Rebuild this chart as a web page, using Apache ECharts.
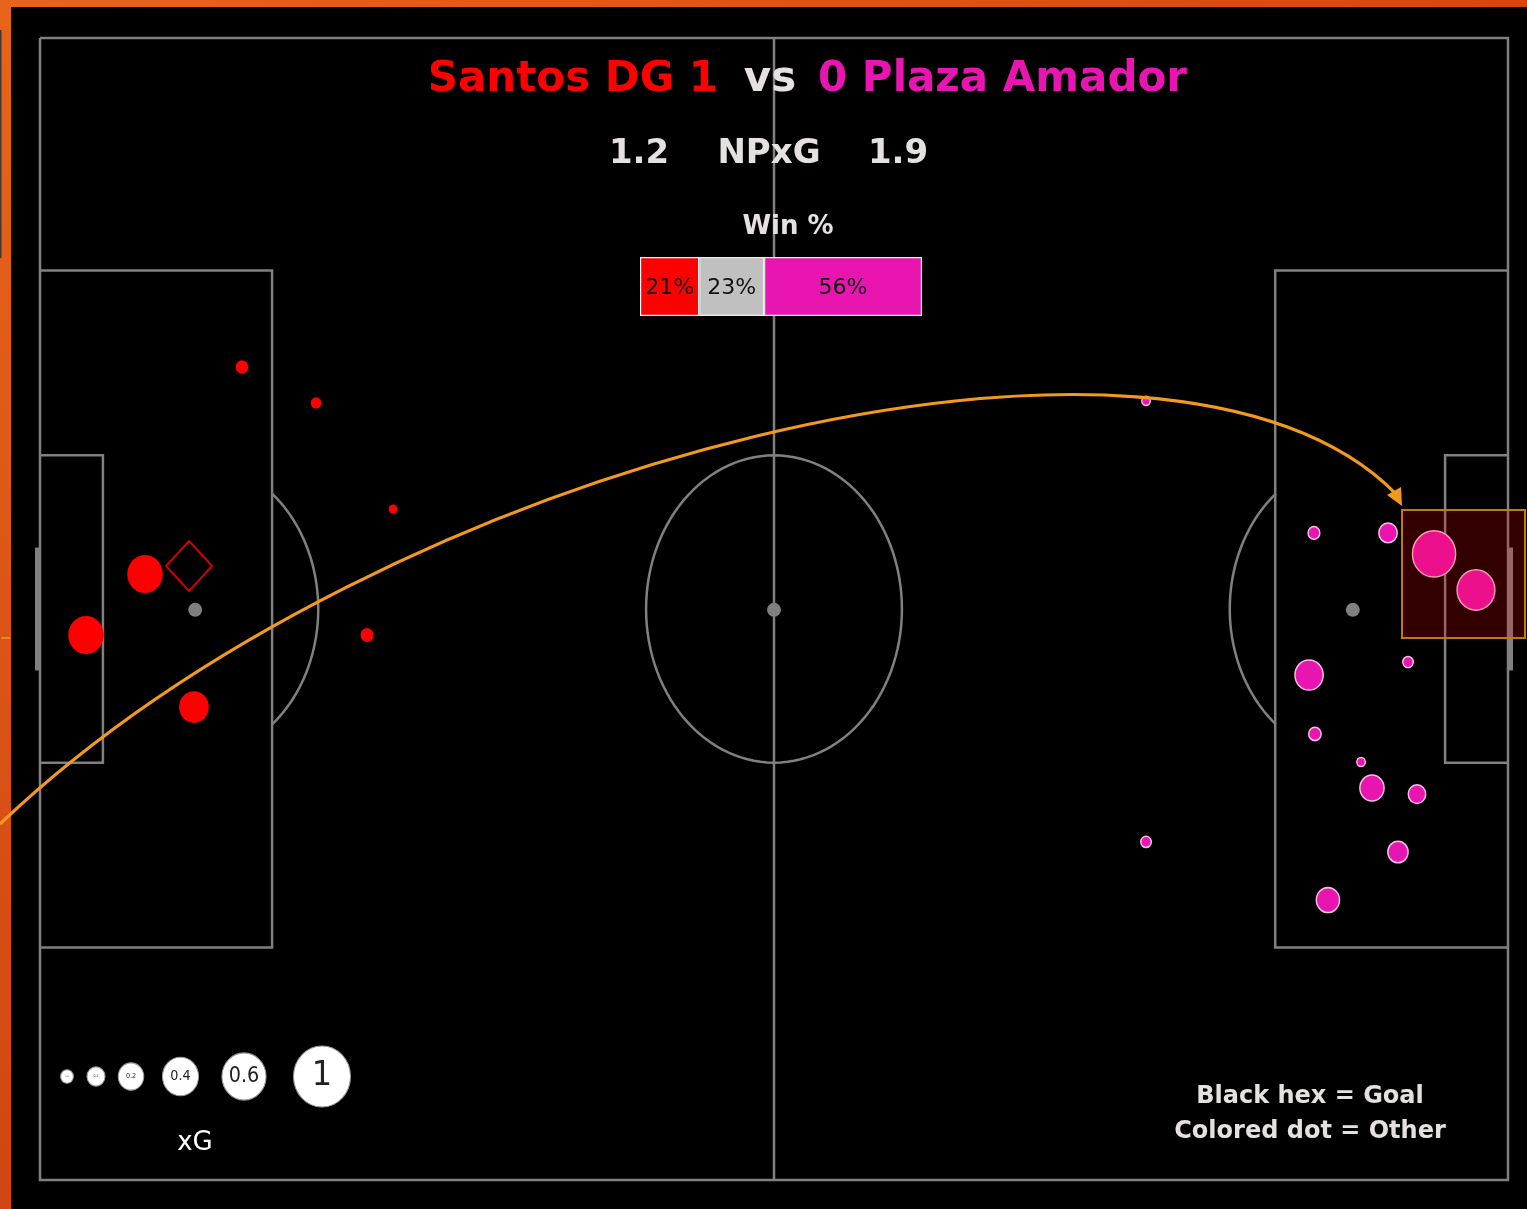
<!DOCTYPE html>
<html>
<head>
<meta charset="utf-8">
<script src="https://cdn.jsdelivr.net/npm/echarts@6/dist/echarts.min.js"></script>
<style>
  html, body { margin: 0; padding: 0; background: #000; }
  #main { width: 1527px; height: 1209px; }
</style>
</head>
<body>
<div id="main"></div>
<script>
var myChart = echarts.init(document.getElementById('main'));

// pitch is 105 x 68 m, y measured from the top touchline
var homeTeam = 'Santos DG', awayTeam = 'Plaza Amador';
var homeGoals = 1, awayGoals = 0;
var homeNpxg = 1.2, awayNpxg = 1.9;

var winLabels = ['home', 'draw', 'away'];
var winPct = [21, 23, 56];

// Santos shots (attacking the left goal)
var homeX  = [14.45, 19.74, 25.25, 7.51, 3.29, 11.01, 23.39];
var homeY  = [19.59, 21.73, 28.05, 31.92, 35.55, 39.84, 35.55];
var homeXg = [0.05, 0.035, 0.023, 0.39, 0.39, 0.27, 0.052];

// Santos goal
var goalX = [10.66];
var goalY = [31.44];

// Plaza Amador shots (attacking the right goal)
var awayX  = [79.11, 91.12, 96.42, 99.71, 102.71, 97.85, 90.77, 91.19, 94.49, 95.27, 98.49, 97.13, 92.12, 79.11];
var awayY  = [21.61, 29.47, 29.47, 30.72, 32.87, 37.16, 37.93, 41.44, 43.11, 44.66, 45.02, 48.47, 51.33, 47.87];
var awayXg = [0.022, 0.043, 0.105, 0.574, 0.44, 0.034, 0.245, 0.048, 0.022, 0.18, 0.094, 0.126, 0.166, 0.034];

// size legend
var legendXg = [0.05, 0.1, 0.2, 0.4, 0.6, 1];
var legendText = ['0.05', '0.1', '0.2', '0.4', '0.6', '1'];

var RED = '#ff0000', PINK = '#e815b0', LINE = '#808080', TXT = '#e6e1e1';
var FONT = 'DejaVu Sans';

function dia(xg) { return 57 * Math.sqrt(xg); }

function pitch(params, api) {
  var P = function (x, y) { return api.coord([x, y]); };
  var kids = [];
  function poly(pts, w) {
    kids.push({ type: 'polyline', shape: { points: pts.map(function (p) { return P(p[0], p[1]); }) },
      style: { stroke: LINE, lineWidth: w || 2.5, fill: null } });
  }
  function arc(cx, cy, r, a0, a1) {
    var pts = [];
    for (var i = 0; i <= 120; i++) {
      var a = a0 + (a1 - a0) * i / 120;
      pts.push([cx + r * Math.cos(a), cy + r * Math.sin(a)]);
    }
    poly(pts);
  }
  poly([[0, 0], [105, 0], [105, 68], [0, 68], [0, 0]]);
  poly([[52.5, 0], [52.5, 68]]);
  poly([[0, 13.84], [16.6, 13.84], [16.6, 54.16], [0, 54.16]]);
  poly([[105, 13.84], [88.35, 13.84], [88.35, 54.16], [105, 54.16]]);
  poly([[0, 24.84], [4.5, 24.84], [4.5, 43.16], [0, 43.16]]);
  poly([[105, 24.84], [100.5, 24.84], [100.5, 43.16], [105, 43.16]]);
  poly([[-0.18, 30.34], [-0.18, 37.66]], 5);
  poly([[105.18, 30.34], [105.18, 37.66]], 5);
  arc(52.5, 34, 9.15, 0, Math.PI * 2);
  var a = Math.acos(5.5 / 8.8);
  arc(11.1, 34, 8.8, -a, a);
  arc(93.9, 34, 8.8, Math.PI - a, Math.PI + a);
  [[11.1, 34.05], [93.9, 34.05], [52.5, 34.05]].forEach(function (s) {
    var c = P(s[0], s[1]);
    kids.push({ type: 'circle', shape: { cx: c[0], cy: c[1], r: 7 }, style: { fill: LINE } });
  });
  return { type: 'group', children: kids };
}

var graphics = [
  { type: 'rect', shape: { x: 0, y: 0, width: 1527, height: 7 }, z: 50,
    style: { fill: new echarts.graphic.LinearGradient(0, 0, 1, 0, [{ offset: 0, color: '#e8641a' }, { offset: 1, color: '#d8460e' }]) } },
  { type: 'rect', shape: { x: 0, y: 0, width: 11, height: 1209 }, z: 50,
    style: { fill: new echarts.graphic.LinearGradient(0, 0, 0, 1, [{ offset: 0, color: '#e8641a' }, { offset: 1, color: '#d04612' }]) } },
  { type: 'rect', shape: { x: 0, y: 30, width: 1.5, height: 228 }, z: 51, style: { fill: '#3a3a3a' } },
  { type: 'line', shape: { x1: 1, y1: 638, x2: 10, y2: 638 }, z: 51, style: { stroke: '#f39a1e', lineWidth: 1.5 } },

  // highlighted zone
  { type: 'rect', shape: { x: 1402, y: 510, width: 123, height: 128 }, z: 60,
    style: { fill: 'rgba(255,0,0,0.2)', stroke: '#c8780a', lineWidth: 2 } },
  // arrow
  { type: 'bezierCurve', z: 61,
    shape: { x1: 0, y1: 824, cpx1: 380, cpy1: 462, cpx2: 1170, cpy2: 262, x2: 1396, y2: 494 },
    style: { stroke: '#f39a1e', lineWidth: 3.2, fill: null } },
  { type: 'polygon', z: 61, shape: { points: [[1402, 506], [1387, 495], [1401, 487]] },
    style: { fill: '#f39a1e' } },

  // titles
  { type: 'text', x: 718, y: 80, z: 70, style: { text: homeTeam + ' ' + homeGoals, fill: RED, font: 'bold 42px ' + FONT, textAlign: 'right', textVerticalAlign: 'middle' } },
  { type: 'text', x: 770, y: 80, z: 70, style: { text: 'vs', fill: TXT, font: 'bold 42px ' + FONT, textAlign: 'center', textVerticalAlign: 'middle' } },
  { type: 'text', x: 818, y: 80, z: 70, style: { text: awayGoals + ' ' + awayTeam, fill: PINK, font: 'bold 42px ' + FONT, textAlign: 'left', textVerticalAlign: 'middle' } },
  { type: 'text', x: 639, y: 154, z: 70, style: { text: homeNpxg.toFixed(1), fill: TXT, font: 'bold 34px ' + FONT, textAlign: 'center', textVerticalAlign: 'middle' } },
  { type: 'text', x: 769, y: 154, z: 70, style: { text: 'NPxG', fill: TXT, font: 'bold 34px ' + FONT, textAlign: 'center', textVerticalAlign: 'middle' } },
  { type: 'text', x: 898, y: 154, z: 70, style: { text: awayNpxg.toFixed(1), fill: TXT, font: 'bold 34px ' + FONT, textAlign: 'center', textVerticalAlign: 'middle' } },
  { type: 'text', x: 788, y: 227, z: 70, style: { text: 'Win %', fill: TXT, font: 'bold 26px ' + FONT, textAlign: 'center', textVerticalAlign: 'middle' } },
  { type: 'text', x: 1310, y: 1097, z: 70, style: { text: 'Black hex = Goal', fill: TXT, font: 'bold 24px ' + FONT, textAlign: 'center', textVerticalAlign: 'middle' } },
  { type: 'text', x: 1310, y: 1132, z: 70, style: { text: 'Colored dot = Other', fill: TXT, font: 'bold 24px ' + FONT, textAlign: 'center', textVerticalAlign: 'middle' } },
  { type: 'text', x: 195, y: 1143, z: 70, style: { text: 'xG', fill: '#ffffff', font: '26px ' + FONT, textAlign: 'center', textVerticalAlign: 'middle' } }
];

// xG size legend
var legendPx = [67, 96, 131, 180.5, 244, 322];
legendXg.forEach(function (v, i) {
  graphics.push({ type: 'circle', x: legendPx[i], y: 1076.5, scaleY: 1.07, z: 70,
    shape: { cx: 0, cy: 0, r: dia(v) / 2 }, style: { fill: '#ffffff', stroke: '#9a9a9a', lineWidth: 1 } });
  graphics.push({ type: 'text', x: legendPx[i], y: 1076.5, scaleY: 1.07, z: 71,
    style: { text: legendText[i], fill: '#222', font: Math.max(1, 32 * v) + 'px ' + FONT, textAlign: 'center', textVerticalAlign: 'middle' } });
});

var winColors = [RED, '#c0c0c0', PINK];

var option = {
  backgroundColor: '#000',
  animation: false,
  grid: [
    { left: 40, top: 38, width: 1468, height: 1142 },
    { left: 640, top: 257, width: 282, height: 59 }
  ],
  xAxis: [
    { type: 'value', min: 0, max: 105, show: false, gridIndex: 0 },
    { type: 'value', min: 0, max: 100, show: false, gridIndex: 1 }
  ],
  yAxis: [
    { type: 'value', min: 0, max: 68, inverse: true, show: false, gridIndex: 0 },
    { type: 'category', data: ['win'], show: false, gridIndex: 1 }
  ],
  graphic: graphics,
  series: [
    {
      type: 'custom', coordinateSystem: 'cartesian2d', xAxisIndex: 0, yAxisIndex: 0,
      silent: true, clip: false, z: 1,
      data: [[0, 0]],
      renderItem: pitch
    },
    {
      name: homeTeam, type: 'scatter', xAxisIndex: 0, yAxisIndex: 0, z: 5,
      data: homeX.map(function (x, i) { return [x, homeY[i], homeXg[i]]; }),
      symbolSize: function (v) { var d = dia(v[2]); return [d, d * 1.07]; },
      itemStyle: { color: RED, opacity: 1 }
    },
    {
      name: 'Goal', type: 'scatter', xAxisIndex: 0, yAxisIndex: 0, z: 5,
      data: goalX.map(function (x, i) { return [x, goalY[i]]; }),
      symbol: 'diamond', symbolSize: [46, 50],
      itemStyle: { color: '#000', borderColor: '#d40000', borderWidth: 2, opacity: 1 }
    },
    {
      name: awayTeam, type: 'scatter', xAxisIndex: 0, yAxisIndex: 0, z: 5,
      data: awayX.map(function (x, i) { return [x, awayY[i], awayXg[i]]; }),
      symbolSize: function (v) { var d = dia(v[2]); return [d, d * 1.07]; },
      itemStyle: { color: PINK, borderColor: '#f6c0e4', borderWidth: 1.5, opacity: 1 }
    }
  ].concat(winPct.map(function (p, i) {
    return {
      name: winLabels[i], type: 'bar', stack: 'win', xAxisIndex: 1, yAxisIndex: 1,
      barWidth: '100%', z: 10,
      data: [p],
      itemStyle: { color: winColors[i], borderColor: '#eeeeee', borderWidth: 1.2 },
      label: { show: true, position: 'inside', formatter: '{c}%', color: '#111',
        fontSize: 22, fontFamily: FONT, offset: [0, 2] }
    };
  }))
};
myChart.setOption(option);
</script>
</body>
</html>
